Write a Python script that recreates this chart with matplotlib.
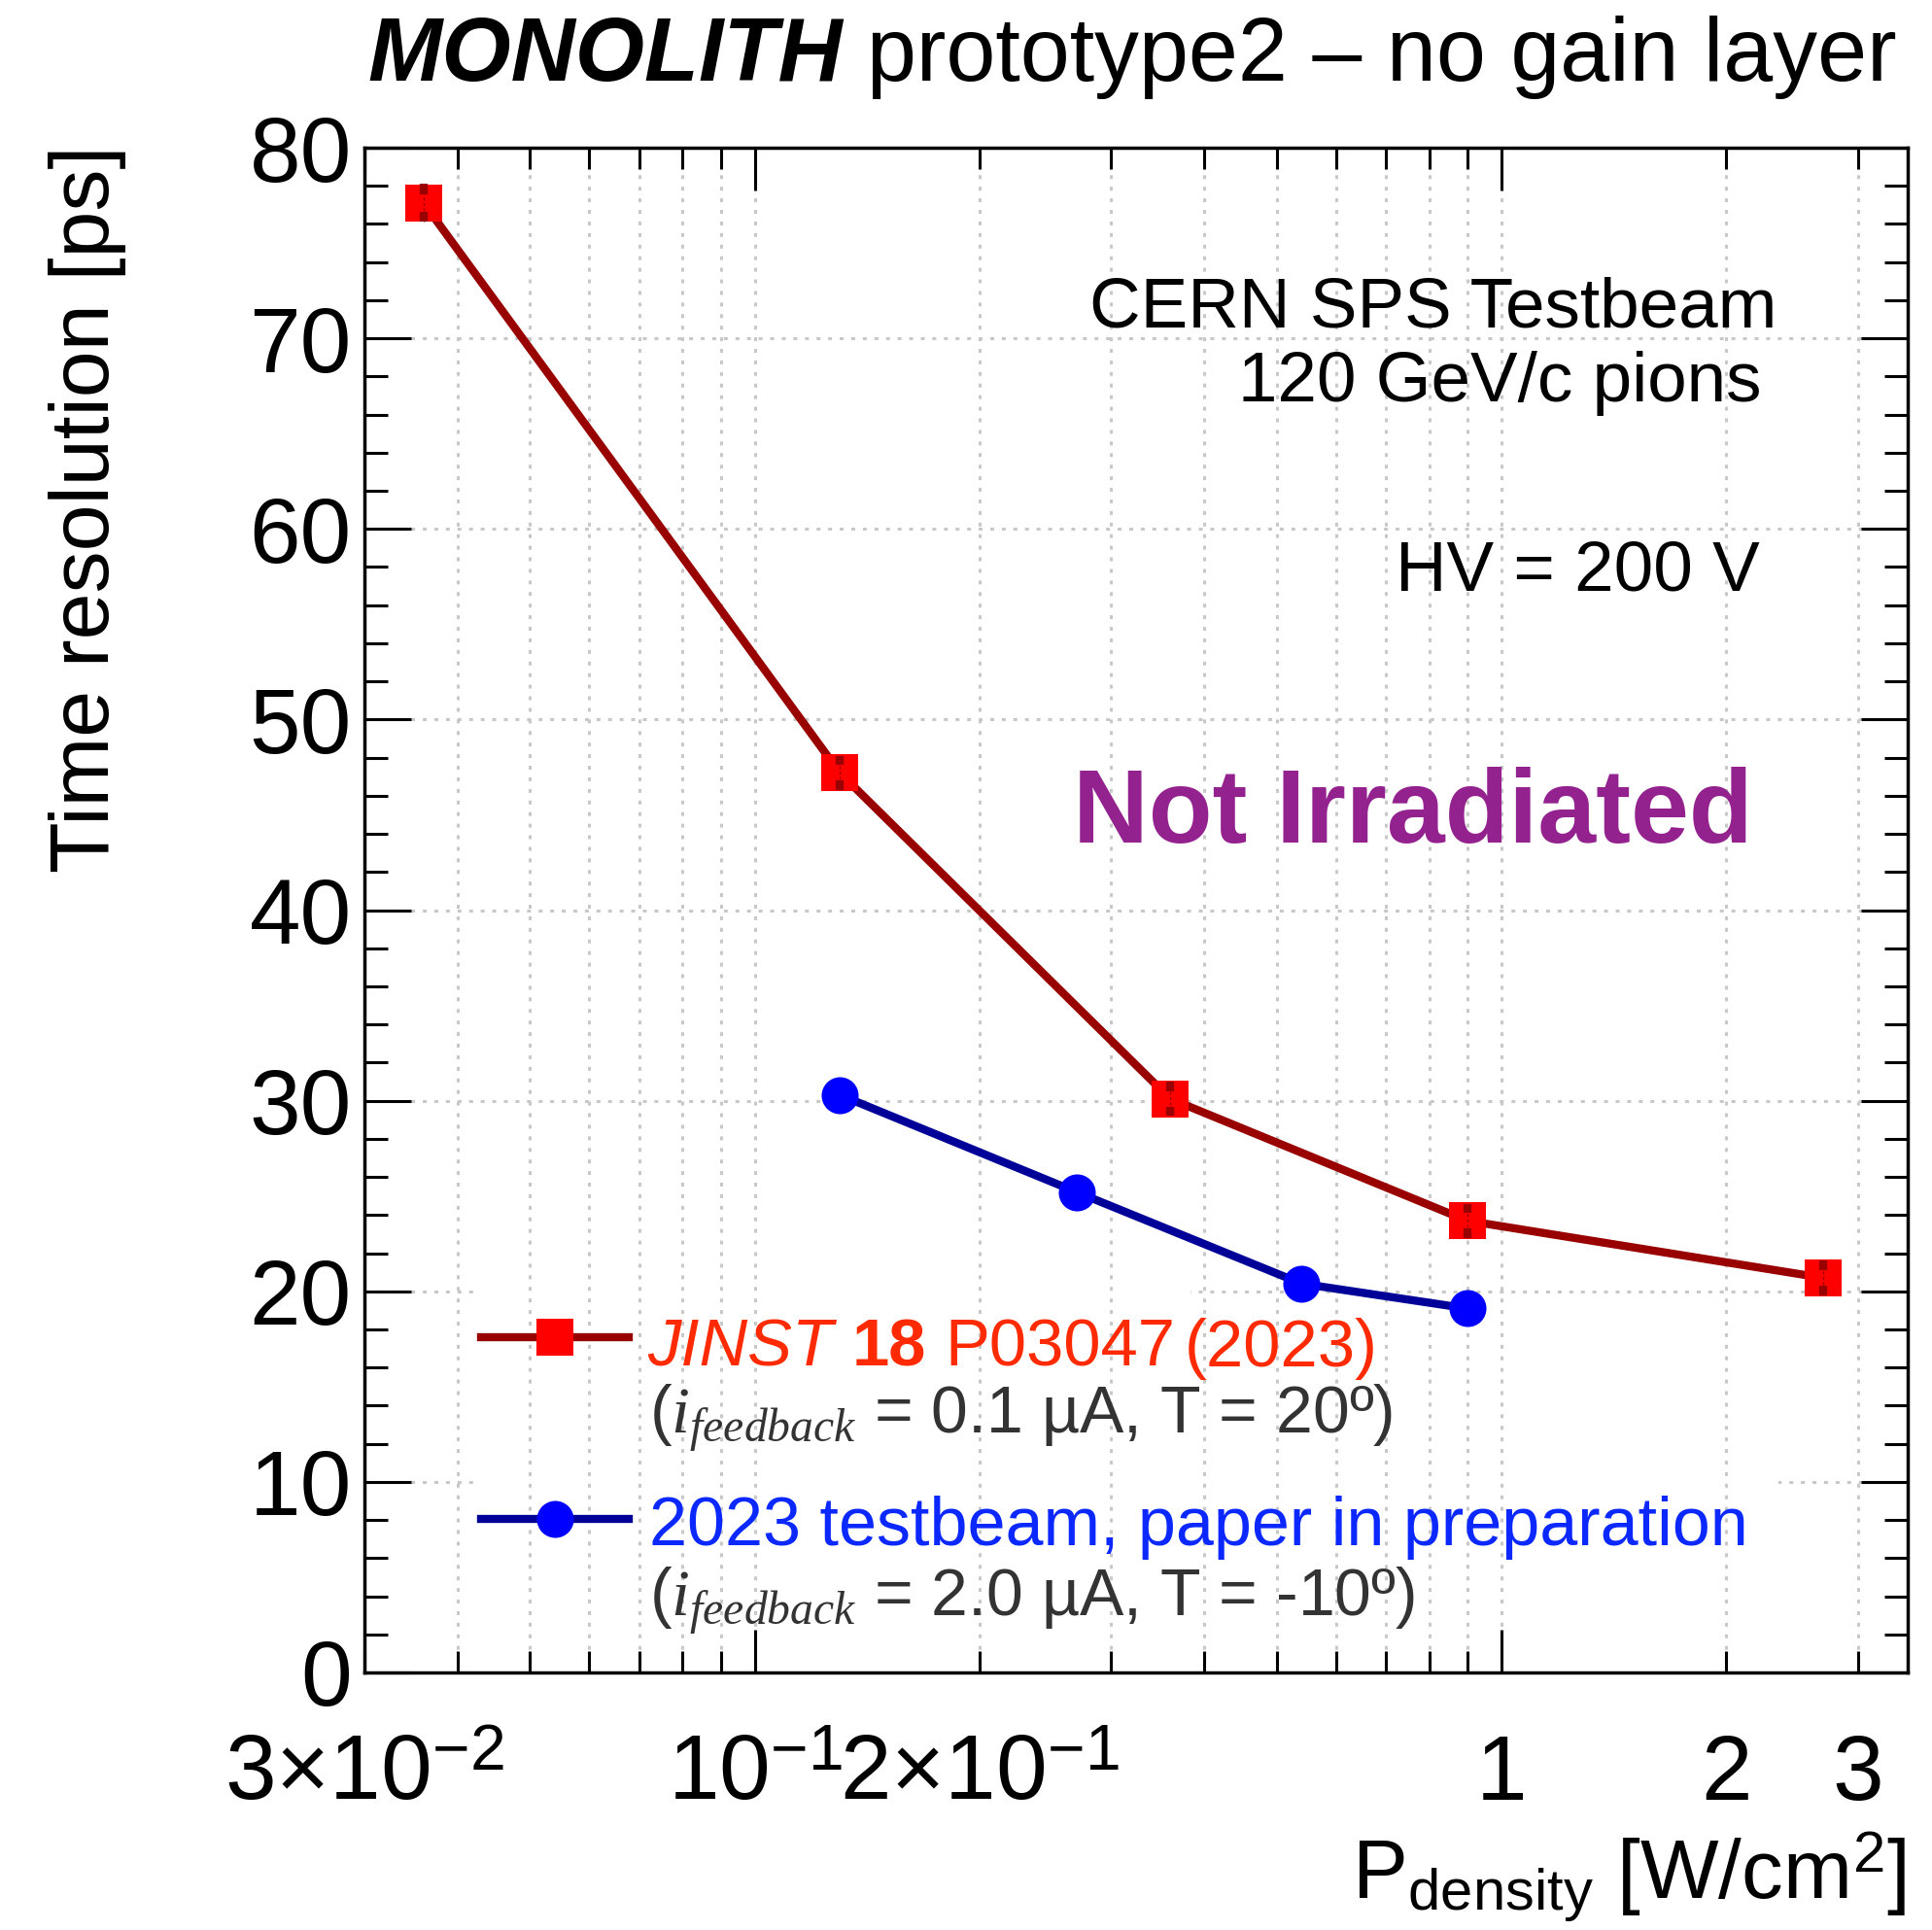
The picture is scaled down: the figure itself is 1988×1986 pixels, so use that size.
import matplotlib
matplotlib.use("Agg")
import matplotlib.pyplot as plt
from matplotlib.ticker import FixedLocator, FuncFormatter, MultipleLocator
from matplotlib.patches import Rectangle
import numpy as np

plt.rcParams["font.family"] = ["Liberation Sans", "DejaVu Sans"]
plt.rcParams["mathtext.fontset"] = "custom"
plt.rcParams["mathtext.rm"] = "Liberation Sans"
plt.rcParams["mathtext.sf"] = "Liberation Sans"
plt.rcParams["mathtext.bf"] = "Liberation Sans:bold"
plt.rcParams["mathtext.it"] = "Liberation Serif:italic"

# ---- data -------------------------------------------------------------
# JINST 18 P03047 (2023): i_feedback = 0.1 uA, T = 20 C
power_jinst = [0.036, 0.130, 0.360, 0.900, 2.70]
tres_jinst = [77.1, 47.2, 30.1, 23.7, 20.7]
err_jinst = [1.0, 0.9, 0.9, 0.9, 0.9]

# 2023 test beam: i_feedback = 2.0 uA, T = -10 C
power_2023 = [0.130, 0.270, 0.540, 0.900]
tres_2023 = [30.3, 25.2, 20.4, 19.1]

x_major_ticks = [0.1, 1]
x_minor_ticks = [0.03, 0.04, 0.05, 0.06, 0.07, 0.08, 0.09,
                 0.2, 0.3, 0.4, 0.5, 0.6, 0.7, 0.8, 0.9, 2, 3]
x_label_values = [0.03, 0.1, 0.2, 1, 2, 3]
x_label_texts = [r"$3{\times}10^{-2}$", r"$10^{-1}$", r"$2{\times}10^{-1}$",
                 "1", "2", "3"]

series_labels = ["JINST", "18", "P03047", "(2023)"]
series_notes = [r"($i_{feedback}$ = 0.1 µA, T = 20º)",
                r"($i_{feedback}$ = 2.0 µA, T = -10º)"]
second_label = "2023 testbeam, paper in preparation"

# ---- colours ----------------------------------------------------------
RED_LINE, RED_MARK, RED_TEXT = "#990000", "#ff0000", "#ff2a00"
BLUE_LINE, BLUE_MARK, BLUE_TEXT = "#000099", "#0000ff", "#0a28ff"
GREY_TEXT = "#333333"
PURPLE = "#93228e"
GRID = "#c8c8c8"

# ---- figure / axes in pixel layout -----------------------------------
FIG_W, FIG_H = 1988, 1986
DPI = 100
fig = plt.figure(figsize=(FIG_W / DPI, FIG_H / DPI), dpi=DPI)


def fx(px):
    return px / FIG_W


def fy(py):
    return 1 - py / FIG_H


AX_L, AX_R, AX_T, AX_B = 375, 1963, 152, 1721
ax = fig.add_axes([fx(AX_L), fy(AX_B), (AX_R - AX_L) / FIG_W, (AX_B - AX_T) / FIG_H])


def ax_fx(px):
    return (px - AX_L) / (AX_R - AX_L)


def ax_fy(py):
    return (AX_B - py) / (AX_B - AX_T)


ax.set_xscale("log")
ax.set_xlim(0.03, 3.5)
ax.set_ylim(0, 80)

# x axis ticks and labels
label_map = {round(v, 4): t for v, t in zip(x_label_values, x_label_texts)}
fmt = FuncFormatter(lambda v, pos: label_map.get(round(v, 4), ""))
ax.xaxis.set_major_locator(FixedLocator(x_major_ticks))
ax.xaxis.set_minor_locator(FixedLocator(x_minor_ticks))
ax.xaxis.set_major_formatter(fmt)
ax.xaxis.set_minor_formatter(fmt)
ax.tick_params(axis="x", which="both", direction="in", top=True, bottom=True,
               labelsize=68, pad=94, width=2.2, color="black")
ax.tick_params(axis="x", which="major", length=32)
ax.tick_params(axis="x", which="minor", length=16)
for t in ax.xaxis.get_major_ticks() + ax.xaxis.get_minor_ticks():
    t.label1.set_verticalalignment("baseline")

# y axis ticks
ax.yaxis.set_major_locator(MultipleLocator(10))
ax.yaxis.set_minor_locator(MultipleLocator(2))
ax.tick_params(axis="y", which="both", direction="in", left=True, right=True,
               labelsize=68, pad=9.4, width=2.2, color="black")
ax.tick_params(axis="y", which="major", length=34.5)
ax.tick_params(axis="y", which="minor", length=17)

for sp in ax.spines.values():
    sp.set_linewidth(2.5)

# dotted grid; horizontal lines sit under the legend background
grid_style = dict(color=GRID, lw=2.2, ls=(0, (1.3, 2.6)))
ax.grid(True, axis="x", which="both", **grid_style)
ax.grid(True, axis="y", which="major", **grid_style)
ax.yaxis.set_zorder(0.4)
ax.xaxis.set_zorder(0.8)

for (x0, x1, y0, y1) in [(490, 1225, 1320, 1500), (490, 1830, 1500, 1700)]:
    ax.add_patch(Rectangle((ax_fx(x0), ax_fy(y1)), ax_fx(x1) - ax_fx(x0),
                           ax_fy(y0) - ax_fy(y1), transform=ax.transAxes,
                           facecolor="white", edgecolor="none", zorder=0.6))

# ---- data series ------------------------------------------------------
LW = 6.0
MS = 27.4
ax.plot(power_jinst, tres_jinst, color=RED_LINE, lw=LW, marker="s", ms=MS,
        mfc=RED_MARK, mec=RED_MARK, mew=0, zorder=3)
ax.plot(power_2023, tres_2023, color=BLUE_LINE, lw=LW, marker="o", ms=MS,
        mfc=BLUE_MARK, mec=BLUE_MARK, mew=0, zorder=3)

# error bars of the published points
pj = np.array(power_jinst)
tj = np.array(tres_jinst)
ej = np.array(err_jinst)
ax.vlines(pj, tj - ej, tj + ej, colors=RED_LINE, lw=1.0, linestyles=(0, (2, 2)), zorder=4)
ax.vlines(pj, tj - ej, tj - 0.45 * ej, colors=RED_LINE, lw=6, zorder=4)
ax.vlines(pj, tj + 0.45 * ej, tj + ej, colors=RED_LINE, lw=6, zorder=4)

# ---- legend -----------------------------------------------------------
for ypx, lc, mc, mk in [(1376, RED_LINE, RED_MARK, "s"), (1563, BLUE_LINE, BLUE_MARK, "o")]:
    ax.plot([ax_fx(495), ax_fx(647)], [ax_fy(ypx)] * 2, color=lc, lw=LW,
            transform=ax.transAxes, clip_on=False, zorder=5)
    ax.plot([ax_fx(571)], [ax_fy(ypx)], marker=mk, ms=MS, mfc=mc, mec=mc, mew=0,
            transform=ax.transAxes, clip_on=False, zorder=6)

renderer = fig.canvas.get_renderer()


def text_run(x_px, y_px, pieces, size, color, ha="left"):
    """Place consecutive styled text pieces on one baseline.

    Each piece is (text, font kwargs, gap after it in em)."""
    em = size * DPI / 72
    if ha == "left":
        x = x_px
        for s, kw, gap in pieces:
            t = fig.text(fx(x), fy(y_px), s, ha="left", va="baseline",
                         size=size, color=color, **kw)
            bb = t.get_window_extent(renderer)
            x = bb.x1 + gap * em
    else:
        x = x_px
        for s, kw, gap in reversed(pieces):
            x -= gap * em
            t = fig.text(fx(x), fy(y_px), s, ha="right", va="baseline",
                         size=size, color=color, **kw)
            bb = t.get_window_extent(renderer)
            x = bb.x0


text_run(666, 1406, [(series_labels[0], dict(style="italic"), 0.28),
                     (series_labels[1], dict(weight="bold"), 0.28),
                     (series_labels[2], dict(), 0.14),
                     (series_labels[3], dict(), 0.0)], 49.5, RED_TEXT)
fig.text(fx(668), fy(1475), series_notes[0], ha="left", va="baseline",
         size=49, color=GREY_TEXT)
fig.text(fx(668), fy(1590), second_label, ha="left", va="baseline",
         size=50.5, color=BLUE_TEXT)
fig.text(fx(668), fy(1663), series_notes[1], ha="left", va="baseline",
         size=49, color=GREY_TEXT)

# ---- title and annotations -------------------------------------------
text_run(1952, 83, [("MONOLITH", dict(weight="bold", style="italic"), 0.28),
                    ("prototype2 – no gain layer", dict(), 0.0)], 66, "black", ha="right")

fig.text(fx(1828), fy(337), "CERN SPS Testbeam", ha="right", va="baseline", size=52.5)
fig.text(fx(1813), fy(413), "120 GeV/c pions", ha="right", va="baseline", size=52.5)
fig.text(fx(1811), fy(607), "HV = 200 V", ha="right", va="baseline", size=52.5)
fig.text(fx(1803), fy(867), "Not Irradiated", ha="right", va="baseline", size=77.5,
         weight="bold", color=PURPLE)

# axis titles
fig.text(fx(1961), fy(1953), r"$\mathrm{P}_{\mathrm{density}}$ [W/cm$^{2}$]",
         ha="right", va="baseline", size=61.5)
fig.text(fx(112), fy(150), "Time resolution [ps]", rotation=90,
         rotation_mode="anchor", ha="right", va="baseline", size=62)

fig.savefig("out.png", dpi=DPI, facecolor="white")
